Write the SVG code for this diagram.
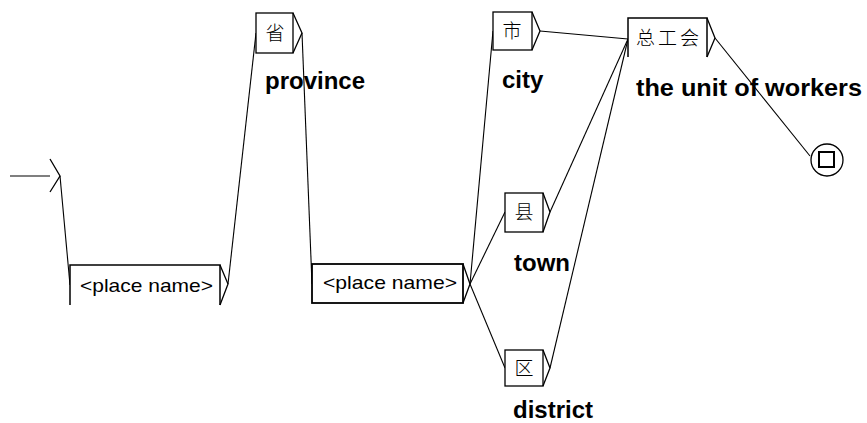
<svg xmlns="http://www.w3.org/2000/svg" width="867" height="423" viewBox="0 0 867 423">
<style>
.bx{fill:#fff;stroke:#000;stroke-width:1.3}
.ed{fill:none;stroke:#000;stroke-width:1.5}
.tri{fill:none;stroke:#000;stroke-width:1.3}
.cn line{stroke:#000;stroke-width:1.1}
.t{font-family:"Liberation Sans",Arial,sans-serif;font-size:19px;fill:#000}
.c{font-family:"Noto Sans CJK SC","Noto Sans",sans-serif;font-size:19px;font-weight:300;fill:#000;text-anchor:middle}
.lb{font-family:"Liberation Sans",Arial,sans-serif;font-weight:bold;font-size:24px;fill:#000}
</style>
<rect width="867" height="423" fill="#fff"/>
<g id="connectors" class="cn">
<line x1="60" y1="176" x2="70" y2="285"/>
<line x1="228" y1="284" x2="256" y2="33"/>
<line x1="302" y1="33" x2="312" y2="284"/>
<line x1="470" y1="284" x2="493" y2="31"/>
<line x1="470" y1="284" x2="505" y2="212"/>
<line x1="470" y1="284" x2="505" y2="368"/>
<line x1="540" y1="31" x2="628" y2="39"/>
<line x1="550" y1="212" x2="628" y2="39"/>
<line x1="550" y1="368" x2="628" y2="39"/>
<line x1="715" y1="38" x2="810" y2="156"/>
</g>
<g id="initial">
<line x1="10" y1="176" x2="50" y2="176" stroke="#000" stroke-width="1.1"/>
<polyline class="tri" points="50,159 60,176 50,192"/>
</g>
<g id="box1">
<rect x="70" y="265" width="150" height="40" fill="#fff"/>
<polyline class="ed" points="70,305 70,265 220,265 220,305"/>
<polyline class="tri" points="220,265 228,284 220,305"/>
<text class="t" x="80" y="292" textLength="133" lengthAdjust="spacingAndGlyphs">&lt;place name&gt;</text>
</g>
<g id="sheng">
<rect class="bx" x="256" y="13" width="37" height="40"/>
<polyline class="tri" points="293,13 302,33 293,53"/>
<text class="c" x="275" y="40">省</text>
<text class="lb" x="265" y="89">province</text>
</g>
<g id="box2">
<rect class="bx" x="312" y="264" width="151" height="39" style="stroke-width:1.8"/>
<polyline class="tri" points="463,264 470,284 463,303"/>
<text class="t" x="323" y="289" textLength="134" lengthAdjust="spacingAndGlyphs">&lt;place name&gt;</text>
</g>
<g id="shi">
<rect class="bx" x="493" y="12" width="39" height="38"/>
<polyline class="tri" points="532,12 540,31 532,50"/>
<text class="c" x="512" y="38">市</text>
<text class="lb" x="502" y="88">city</text>
</g>
<g id="xian">
<rect class="bx" x="505" y="193" width="38" height="39"/>
<polyline class="tri" points="543,193 550,212 543,232"/>
<text class="c" x="524" y="219">县</text>
<text class="lb" x="514" y="271">town</text>
</g>
<g id="qu">
<rect class="bx" x="505" y="350" width="38" height="36"/>
<polyline class="tri" points="543,350 550,368 543,386"/>
<text class="c" x="524" y="375">区</text>
<text class="lb" x="513" y="418">district</text>
</g>
<g id="zonggonghui">
<rect x="628" y="18" width="79" height="39" fill="#fff"/>
<polyline class="ed" points="628,57 628,18 707,18 707,57"/>
<polyline class="tri" points="707,18 715,38 707,57"/>
<text class="c" x="669" y="45" letter-spacing="3">总工会</text>
<text class="lb" x="636" y="96" textLength="226" lengthAdjust="spacingAndGlyphs">the unit of workers</text>
</g>
<g id="final">
<circle cx="827" cy="160" r="16" fill="#fff" stroke="#000" stroke-width="1.3"/>
<rect x="819" y="152" width="15" height="15" fill="none" stroke="#000" stroke-width="2"/>
</g>
</svg>
